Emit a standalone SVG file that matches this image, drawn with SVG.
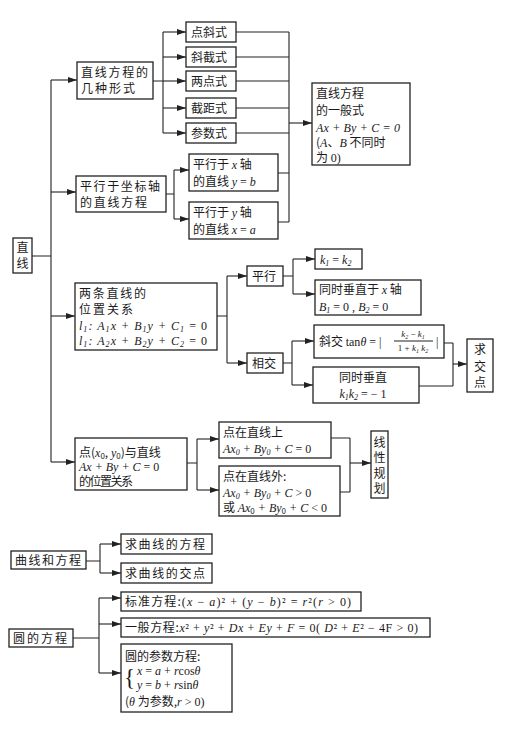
<svg xmlns="http://www.w3.org/2000/svg" width="509" height="751" viewBox="0 0 509 751">
<defs>
<marker id="ar" markerUnits="userSpaceOnUse" markerWidth="9" markerHeight="6" refX="9" refY="3" orient="auto"><path d="M0,0 L9,3 L0,6 z" fill="#222"/></marker>
<style>
.b{fill:#fff;stroke:#222;stroke-width:1.3}
.l{fill:none;stroke:#222;stroke-width:1.1}
.a{fill:none;stroke:#222;stroke-width:1.1;marker-end:url(#ar)}
text{font-family:"Noto Sans CJK SC","Liberation Serif",serif;font-size:12px;fill:#1a1a1a}
.m{font-family:"Liberation Serif",serif;font-style:italic}
.n{font-family:"Liberation Serif",serif;font-style:normal}
.s{font-size:8px}
.c{text-anchor:middle}
</style>
</defs>
<rect width="509" height="751" fill="#fff"/>

<g id="connectors">
<path class="l" d="M32,256 H51 M51,80 V462"/>
<path class="a" d="M51,80 H77"/>
<path class="a" d="M51,192 H76"/>
<path class="a" d="M51,316 H75"/>
<path class="a" d="M51,462 H75"/>
<path class="l" d="M153,81 H163 M163,32 V133"/>
<path class="a" d="M163,32 H186"/>
<path class="a" d="M163,57 H186"/>
<path class="a" d="M163,81 H186"/>
<path class="a" d="M163,108 H186"/>
<path class="a" d="M163,133 H186"/>
<path class="l" d="M236,32 H289 M236,57 H289 M236,81 H289 M236,108 H289 M236,133 H289 M278,173 H289 M278,222 H289 M289,32 V222"/>
<path class="a" d="M289,123 H312"/>
<path class="l" d="M166,194 H174 M174,170 V219"/>
<path class="a" d="M174,170 H189"/>
<path class="a" d="M174,219 H189"/>
<path class="l" d="M217,316 H227 M227,276 V363"/>
<path class="a" d="M227,276 H247"/>
<path class="a" d="M227,363 H247"/>
<path class="l" d="M283,276 H293 M293,259 V294"/>
<path class="a" d="M293,259 H315"/>
<path class="a" d="M293,294 H315"/>
<path class="l" d="M283,363 H292 M292,341 V385"/>
<path class="a" d="M292,341 H314"/>
<path class="a" d="M292,385 H313"/>
<path class="l" d="M444,343 H453 M419,386 H453 M453,343 V386"/>
<path class="a" d="M453,364 H467"/>
<path class="l" d="M187,463 H197 M197,439 V490"/>
<path class="a" d="M197,439 H219"/>
<path class="a" d="M197,490 H219"/>
<path class="l" d="M331,438 H350 M340,492 H350 M350,438 V492"/>
<path class="a" d="M350,463 H371"/>
<path class="l" d="M86,561 H100 M100,544 V573"/>
<path class="a" d="M100,544 H121"/>
<path class="a" d="M100,573 H121"/>
<path class="l" d="M73,638 H99 M99,598 V673"/>
<path class="a" d="M99,598 H121"/>
<path class="a" d="M99,624 H121"/>
<path class="a" d="M99,673 H121"/>
</g>

<g id="n-zhixian"><rect class="b" x="13" y="238" width="19" height="35"/><text class="c" x="22.5" y="252">直</text><text class="c" x="22.5" y="268">线</text></g>

<g id="n-forms"><rect class="b" x="77" y="62" width="76" height="37"/><text x="81" y="77" textLength="67">直线方程的</text><text x="81" y="93" textLength="54">几种形式</text></g>
<g id="n-dianxie"><rect class="b" x="186" y="22" width="50" height="20"/><text x="191" y="37">点斜式</text></g>
<g id="n-xiejie"><rect class="b" x="186" y="47" width="50" height="20"/><text x="191" y="62">斜截式</text></g>
<g id="n-liangdian"><rect class="b" x="186" y="71" width="50" height="20"/><text x="191" y="86">两点式</text></g>
<g id="n-jieju"><rect class="b" x="186" y="98" width="50" height="20"/><text x="191" y="113">截距式</text></g>
<g id="n-canshu"><rect class="b" x="186" y="123" width="50" height="20"/><text x="191" y="138">参数式</text></g>

<g id="n-general"><rect class="b" x="312" y="83" width="98" height="82"/>
<text x="316" y="98">直线方程</text>
<text x="316" y="115">的一般式</text>
<text x="316" y="132" class="m" textLength="84">Ax + By + C = 0</text>
<text x="316" y="147">(<tspan class="m">A</tspan>、<tspan class="m">B</tspan> 不同时</text>
<text x="316" y="162">为 <tspan class="n">0)</tspan></text>
</g>

<g id="n-parallel-axis"><rect class="b" x="76" y="176" width="90" height="36"/><text x="80" y="191" textLength="80">平行于坐标轴</text><text x="80" y="207" textLength="67">的直线方程</text></g>
<g id="n-px"><rect class="b" x="189" y="154" width="89" height="37"/><text x="193" y="169">平行于 <tspan class="m">x</tspan> 轴</text><text x="193" y="186">的直线 <tspan class="m">y</tspan><tspan class="n"> = </tspan><tspan class="m">b</tspan></text></g>
<g id="n-py"><rect class="b" x="189" y="202" width="89" height="37"/><text x="193" y="217">平行于 <tspan class="m">y</tspan> 轴</text><text x="193" y="234">的直线 <tspan class="m">x</tspan><tspan class="n"> = </tspan><tspan class="m">a</tspan></text></g>

<g id="n-twolines"><rect class="b" x="75" y="283" width="142" height="67"/>
<text x="79" y="298" textLength="67">两条直线的</text>
<text x="79" y="314" textLength="54">位置关系</text>
<text x="79" y="330" class="m" textLength="128">l<tspan class="s" dy="2">1</tspan><tspan dy="-2">: A</tspan><tspan class="s" dy="2">1</tspan><tspan dy="-2">x + B</tspan><tspan class="s" dy="2">1</tspan><tspan dy="-2">y + C</tspan><tspan class="s" dy="2">1</tspan><tspan dy="-2" class="n"> = 0</tspan></text>
<text x="79" y="345" class="m" textLength="128">l<tspan class="s" dy="2">1</tspan><tspan dy="-2">: A</tspan><tspan class="s" dy="2">2</tspan><tspan dy="-2">x + B</tspan><tspan class="s" dy="2">2</tspan><tspan dy="-2">y + C</tspan><tspan class="s" dy="2">2</tspan><tspan dy="-2" class="n"> = 0</tspan></text>
</g>

<g id="n-pingxing"><rect class="b" x="247" y="266" width="36" height="20"/><text x="252" y="281">平行</text></g>
<g id="n-xiangjiao"><rect class="b" x="247" y="353" width="36" height="20"/><text x="252" y="368">相交</text></g>

<g id="n-k1k2"><rect class="b" x="315" y="249" width="47" height="20"/><text x="320" y="264" class="m">k<tspan class="s" dy="2">1</tspan><tspan dy="-2" class="n"> = </tspan>k<tspan class="s" dy="2">2</tspan></text></g>
<g id="n-perpx"><rect class="b" x="315" y="280" width="106" height="35"/>
<text x="319" y="294">同时垂直于 <tspan class="m">x</tspan> 轴</text>
<text x="319" y="311" class="m">B<tspan class="s" dy="2">1</tspan><tspan dy="-2" class="n"> = 0  , </tspan>B<tspan class="s" dy="2">2</tspan><tspan dy="-2" class="n"> = 0</tspan></text>
</g>

<g id="n-xiejiao"><rect class="b" x="314" y="325" width="130" height="33"/>
<text x="319" y="346">斜交 <tspan class="n">tan</tspan><tspan class="m">θ</tspan><tspan class="n"> = |</tspan></text>
<text x="413" y="337" class="m c" style="font-size:9px">k<tspan class="s" style="font-size:6px" dy="1.5">2</tspan><tspan dy="-1.5" class="n"> − </tspan>k<tspan class="s" style="font-size:6px" dy="1.5">1</tspan></text>
<path class="l" d="M394,341 H433" stroke-width="0.9"/>
<text x="413" y="351" class="m c" style="font-size:9px"><tspan class="n">1 + </tspan>k<tspan style="font-size:6px" dy="1.5">1</tspan><tspan dy="-1.5"> k</tspan><tspan style="font-size:6px" dy="1.5">2</tspan></text>
<text x="436" y="346" class="n">|</text>
</g>
<g id="n-perp"><rect class="b" x="313" y="367" width="106" height="36"/>
<text x="363" y="382" class="c">同时垂直</text>
<text x="363" y="398" class="m c">k<tspan class="s" dy="2">1</tspan><tspan dy="-2">k</tspan><tspan class="s" dy="2">2</tspan><tspan dy="-2" class="n"> = − 1</tspan></text>
</g>
<g id="n-qiujiaodian"><rect class="b" x="467" y="339" width="26" height="53"/><text class="c" x="480" y="354">求</text><text class="c" x="480" y="371">交</text><text class="c" x="480" y="387">点</text></g>

<g id="n-point"><rect class="b" x="75" y="438" width="112" height="52"/>
<text x="79" y="457">点(<tspan class="m">x</tspan><tspan class="s" dy="2">0</tspan><tspan dy="-2">, </tspan><tspan class="m">y</tspan><tspan class="s" dy="2">0</tspan><tspan dy="-2">)与直线</tspan></text>
<text x="79" y="471" class="m">Ax + By + C<tspan class="n"> = 0</tspan></text>
<text x="79" y="486" textLength="54">的位置关系</text>
</g>
<g id="n-on"><rect class="b" x="219" y="422" width="112" height="36"/>
<text x="223" y="437">点在直线上</text>
<text x="223" y="453" class="m">Ax<tspan class="s" dy="2">0</tspan><tspan dy="-2"> + By</tspan><tspan class="s" dy="2">0</tspan><tspan dy="-2"> + C</tspan><tspan class="n"> = 0</tspan></text>
</g>
<g id="n-off"><rect class="b" x="219" y="466" width="121" height="50"/>
<text x="223" y="481">点在直线外:</text>
<text x="223" y="497" class="m">Ax<tspan class="s" dy="2">0</tspan><tspan dy="-2"> + By</tspan><tspan class="s" dy="2">0</tspan><tspan dy="-2"> + C</tspan><tspan class="n"> &gt; 0</tspan></text>
<text x="223" y="512">或 <tspan class="m">Ax</tspan><tspan class="s" dy="2">0</tspan><tspan dy="-2" class="m"> + By</tspan><tspan class="s" dy="2">0</tspan><tspan dy="-2" class="m"> + C</tspan><tspan class="n"> &lt; 0</tspan></text>
</g>
<g id="n-lp"><rect class="b" x="371" y="431" width="17" height="67"/><text class="c" x="379.5" y="447">线</text><text class="c" x="379.5" y="462">性</text><text class="c" x="379.5" y="478">规</text><text class="c" x="379.5" y="493">划</text></g>

<g id="n-curve"><rect class="b" x="11" y="551" width="75" height="18"/><text x="15" y="565" textLength="66">曲线和方程</text></g>
<g id="n-curve-eq"><rect class="b" x="121" y="534" width="91" height="20"/><text x="125" y="549" textLength="80">求曲线的方程</text></g>
<g id="n-curve-int"><rect class="b" x="121" y="563" width="91" height="20"/><text x="125" y="578" textLength="80">求曲线的交点</text></g>

<g id="n-circle"><rect class="b" x="9" y="629" width="64" height="18"/><text x="13" y="643" textLength="54">圆的方程</text></g>
<g id="n-std"><rect class="b" x="121" y="592" width="240" height="19"/>
<text x="125" y="606" textLength="226">标准方程:<tspan class="n">(</tspan><tspan class="m">x</tspan><tspan class="n"> − </tspan><tspan class="m">a</tspan><tspan class="n">)² + (</tspan><tspan class="m">y</tspan><tspan class="n"> − </tspan><tspan class="m">b</tspan><tspan class="n">)² = </tspan><tspan class="m">r</tspan><tspan class="n">²(</tspan><tspan class="m">r</tspan><tspan class="n"> &gt; 0)</tspan></text>
</g>
<g id="n-gen"><rect class="b" x="121" y="618" width="309" height="19"/>
<text x="125" y="632" textLength="293">一般方程:<tspan class="m">x</tspan><tspan class="n">² + </tspan><tspan class="m">y</tspan><tspan class="n">² + </tspan><tspan class="m">Dx</tspan><tspan class="n"> + </tspan><tspan class="m">Ey</tspan><tspan class="n"> + </tspan><tspan class="m">F</tspan><tspan class="n"> = 0( </tspan><tspan class="m">D</tspan><tspan class="n">² + </tspan><tspan class="m">E</tspan><tspan class="n">² − 4F &gt; 0)</tspan></text>
</g>
<g id="n-param"><rect class="b" x="121" y="644" width="111" height="68"/>
<text x="125" y="661">圆的参数方程:</text>
<text x="124" y="685" class="n" style="font-size:23px">{</text>
<text x="137" y="675" class="m">x<tspan class="n"> = </tspan>a<tspan class="n"> + </tspan>r<tspan class="n">cos</tspan>θ</text>
<text x="137" y="689" class="m">y<tspan class="n"> = </tspan>b<tspan class="n"> + </tspan>r<tspan class="n">sin</tspan>θ</text>
<text x="125" y="706">(<tspan class="m">θ</tspan> 为参数,<tspan class="m">r</tspan><tspan class="n"> &gt; 0)</tspan></text>
</g>
</svg>
